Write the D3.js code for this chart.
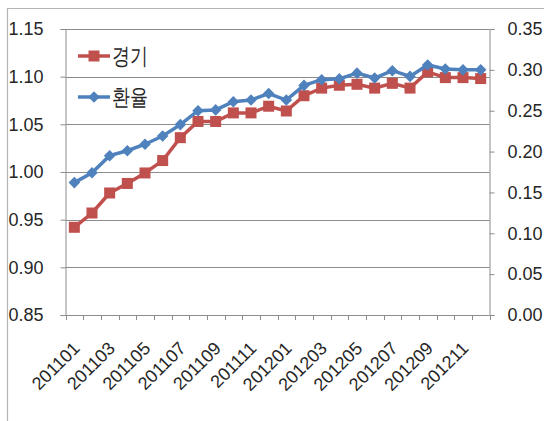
<!DOCTYPE html>
<html>
<head>
<meta charset="utf-8">
<script src="https://cdn.jsdelivr.net/npm/d3@7"></script>
<style>
  html, body { margin: 0; padding: 0; background: #fff; }
  svg { display: block; }
  text { font-family: "Liberation Sans", Arial, sans-serif; fill: #262626; }
</style>
</head>
<body>
<svg id="chart" width="544" height="421"></svg>
<script>
// Monthly periods, Jan 2011 – Dec 2012
const months = [
  "201101","201102","201103","201104","201105","201106",
  "201107","201108","201109","201110","201111","201112",
  "201201","201202","201203","201204","201205","201206",
  "201207","201208","201209","201210","201211","201212"
];
// 경기 index (left axis)
const gyeonggi = [
  0.942, 0.957, 0.978, 0.988, 0.999, 1.012,
  1.036, 1.053, 1.053, 1.062, 1.062, 1.069,
  1.064, 1.080, 1.088, 1.091, 1.092, 1.088,
  1.093, 1.088, 1.105, 1.099, 1.099, 1.098
];
// 환율 series (right axis)
const hwanyul = [
  0.162, 0.174, 0.195, 0.201, 0.209, 0.219,
  0.233, 0.250, 0.251, 0.261, 0.263, 0.271,
  0.263, 0.281, 0.288, 0.289, 0.296, 0.290,
  0.299, 0.292, 0.306, 0.301, 0.300, 0.300
];
const leftTicks = [0.85, 0.90, 0.95, 1.00, 1.05, 1.10, 1.15];
const rightTicks = [0.00, 0.05, 0.10, 0.15, 0.20, 0.25, 0.30, 0.35];
const xLabels = months.filter((d, i) => i % 2 === 0);
const seriesNames = ["경기", "환율"];

const RED = "#c0504d", BLUE = "#4f81bd", AXIS = "#8c8c8c";
const plot = { left: 65.5, right: 489.5, top: 29, bottom: 315 };

const svg = d3.select("#chart");

// outer chart border (only top and left edges are visible in the frame)
svg.append("line").attr("x1", 7).attr("x2", 544).attr("y1", 8.5).attr("y2", 8.5)
  .attr("stroke", "#b4b4b4").attr("stroke-width", 1.2);
svg.append("line").attr("x1", 7.5).attr("x2", 7.5).attr("y1", 8).attr("y2", 421)
  .attr("stroke", "#b4b4b4").attr("stroke-width", 1.2);

const x = d3.scaleBand().domain(months).range([plot.left, plot.right]).padding(0);
const yL = d3.scaleLinear().domain([0.85, 1.15]).range([plot.bottom, plot.top]);
const yR = d3.scaleLinear().domain([0, 0.35]).range([plot.bottom, plot.top]);
const cx = d => x(d) + x.bandwidth() / 2;

// horizontal gridlines from the left axis
svg.append("g").selectAll("line").data(leftTicks.slice(1)).join("line")
  .attr("x1", plot.left).attr("x2", plot.right)
  .attr("y1", d => Math.round(yL(d)) + 0.5).attr("y2", d => Math.round(yL(d)) + 0.5)
  .attr("stroke", AXIS).attr("stroke-width", 1);

// left axis
const gL = svg.append("g").attr("transform", `translate(${plot.left},0)`)
  .call(d3.axisLeft(yL).tickValues(leftTicks).tickFormat(d3.format(".2f")).tickSize(5).tickPadding(17));
gL.selectAll("path, line").attr("stroke", AXIS);
gL.selectAll("text").attr("font-size", 18).attr("font-family", "Liberation Sans, Arial, sans-serif").attr("fill", "#262626");

// right axis
const gR = svg.append("g").attr("transform", `translate(${plot.right},0)`)
  .call(d3.axisRight(yR).tickValues(rightTicks).tickFormat(d3.format(".2f")).tickSize(5).tickPadding(13));
gR.selectAll("path, line").attr("stroke", AXIS);
gR.selectAll("text").attr("font-size", 18).attr("font-family", "Liberation Sans, Arial, sans-serif").attr("fill", "#262626");

// bottom axis: ticks at category boundaries, labels every other month
const gB = svg.append("g").attr("transform", `translate(0,${plot.bottom})`);
gB.append("line").attr("x1", plot.left).attr("x2", plot.right).attr("y1", 0.5).attr("y2", 0.5)
  .attr("stroke", AXIS);
gB.selectAll("line.tick").data(months.concat(["end"])).join("line").attr("class", "tick")
  .attr("x1", (d, i) => Math.round(plot.left + i * x.bandwidth()) + 0.5)
  .attr("x2", (d, i) => Math.round(plot.left + i * x.bandwidth()) + 0.5)
  .attr("y1", 0).attr("y2", 5).attr("stroke", AXIS);
gB.selectAll("text").data(xLabels).join("text")
  .attr("transform", d => `translate(${cx(d) + 2},${30}) rotate(-45)`)
  .attr("text-anchor", "end")
  .attr("dy", "0.35em")
  .attr("font-size", 18)
  .text(d => d);

// series lines and markers
const lineL = d3.line().x((d, i) => cx(months[i])).y(d => yL(d));
const lineR = d3.line().x((d, i) => cx(months[i])).y(d => yR(d));

svg.append("path").datum(gyeonggi).attr("d", lineL)
  .attr("fill", "none").attr("stroke", RED).attr("stroke-width", 3.5);
svg.append("g").selectAll("rect").data(gyeonggi).join("rect")
  .attr("x", (d, i) => cx(months[i]) - 5.5).attr("y", d => yL(d) - 5.5)
  .attr("width", 11).attr("height", 11).attr("fill", RED);

const diamond = d3.symbol().type(d3.symbolDiamond2).size(85);
svg.append("path").datum(hwanyul).attr("d", lineR)
  .attr("fill", "none").attr("stroke", BLUE).attr("stroke-width", 3.5);
svg.append("g").selectAll("path").data(hwanyul).join("path")
  .attr("d", diamond)
  .attr("transform", (d, i) => `translate(${cx(months[i])},${yR(d)})`)
  .attr("fill", BLUE);

// legend
const legend = svg.append("g");
const legendRows = [
  { name: seriesNames[0], color: RED, y: 56, shape: "square" },
  { name: seriesNames[1], color: BLUE, y: 97, shape: "diamond" }
];
legendRows.forEach(r => {
  legend.append("line").attr("x1", 78).attr("x2", 110).attr("y1", r.y).attr("y2", r.y)
    .attr("stroke", r.color).attr("stroke-width", 3.5);
  if (r.shape === "square") {
    legend.append("rect").attr("x", 88.5).attr("y", r.y - 5.5).attr("width", 11).attr("height", 11)
      .attr("fill", r.color);
  } else {
    legend.append("path").attr("d", diamond).attr("transform", `translate(94,${r.y})`)
      .attr("fill", r.color);
  }
  legend.append("text").attr("x", 112).attr("y", r.y + 8)
    .attr("font-family", "Noto Sans CJK KR, sans-serif")
    .attr("font-size", 23)
    .attr("textLength", 36).attr("lengthAdjust", "spacingAndGlyphs")
    .text(r.name);
});
</script>
</body>
</html>
